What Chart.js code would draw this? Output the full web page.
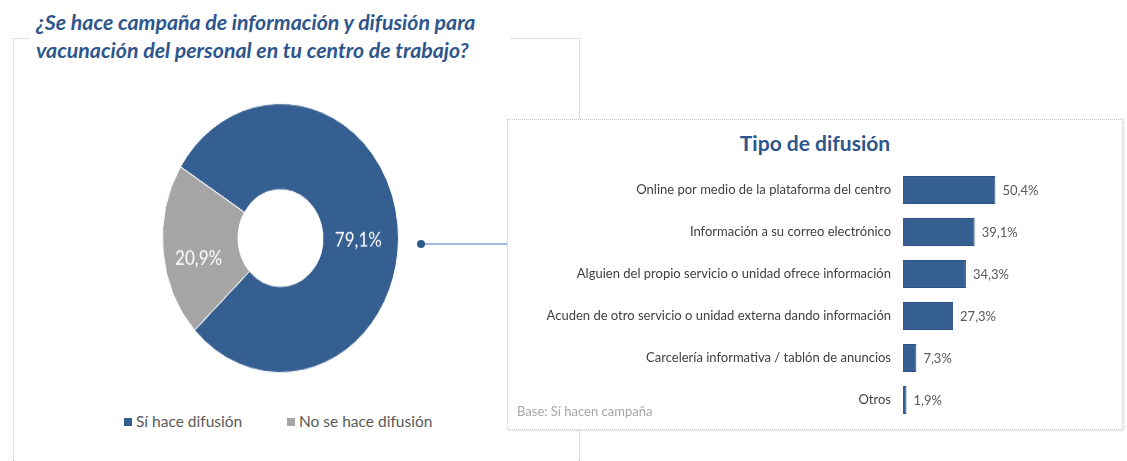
<!DOCTYPE html>
<html>
<head>
<meta charset="utf-8">
<script src="https://cdn.jsdelivr.net/npm/chart.js@4"></script>
<style>
  body { margin: 0; width: 1127px; height: 461px; background: #fff; position: relative; overflow: hidden; font-family: Lato, sans-serif; }
  .frame { position: absolute; left: 13px; top: 38px; width: 565px; height: 460px; border: 1px dotted #c4c4c4; border-bottom: none; }
  .titulo { position: absolute; left: 28px; top: 8px; padding: 0 36px 0 8px; background: #fff; color: #2e568c;
            font: italic bold 21.3px Lato, sans-serif; line-height: 28px; white-space: nowrap; }
  #donutWrap { position: absolute; left: 162px; top: 103px; width: 237px; height: 237px; transform: scaleY(1.14); transform-origin: top left; }
  .leyenda { position: absolute; top: 412px; font: 15.5px Lato, sans-serif; color: #595959; white-space: nowrap; }
  .leyenda span.sq { display: inline-block; width: 8px; height: 8px; margin-right: 4px; vertical-align: 1px; }
  .conector { position: absolute; left: 421px; top: 243px; width: 86px; height: 2px; background: #a3b9d9; }
  .punto { position: absolute; left: 417px; top: 240px; width: 8px; height: 8px; border-radius: 50%; background: #2e5a8c; }
  .caja { position: absolute; left: 507px; top: 119px; width: 614px; height: 309px; background: #fff; border: 1px dotted #c8c8c8; box-shadow: 1px 1px 2px rgba(0,0,0,0.12); }
  .caja h2 { margin: 0; position: absolute; left: 0; right: 0; top: 10px; text-align: center; font: bold 21px Lato, sans-serif; color: #2e568c; }
  .base { position: absolute; left: 9px; top: 283px; font: 13px Lato, sans-serif; color: #a6a6a6; }
  #barWrap { position: absolute; left: 0px; top: 49px; width: 614px; height: 252px; }
</style>
</head>
<body>
<div class="frame"></div>
<div class="titulo">¿Se hace campaña de información y difusión para<br>vacunación del personal en tu centro de trabajo?</div>
<div id="donutWrap"><canvas id="donut" width="237" height="237"></canvas></div>
<div id="leyenda"></div>
<div class="conector"></div>
<div class="punto"></div>
<div class="caja">
  <h2>Tipo de difusión</h2>
  <div id="barWrap"><canvas id="barras" width="614" height="252"></canvas></div>
  <div class="base">Base: Sí hacen campaña</div>
</div>
<script>
// Gráfico de dona: ¿se hace campaña?
const categoriasDona = ['Sí hace difusión', 'No se hace difusión'];
const valoresDona = [79.1, 20.9];
const coloresDona = ['#365f91', '#a5a5a5'];

// Gráfico de barras: tipo de difusión
const categoriasBarras = [
    'Online por medio de la plataforma del centro',
    'Información a su correo electrónico',
    'Alguien del propio servicio o unidad ofrece información',
    'Acuden de otro servicio o unidad externa dando información',
    'Carcelería informativa / tablón de anuncios',
    'Otros'
];
const valoresBarras = [50.4, 39.1, 34.3, 27.3, 7.3, 1.9];

const fmt = v => v.toFixed(1).replace('.', ',') + '%';

// Etiquetas dentro de los segmentos de la dona
const etiquetasDona = {
    id: 'etiquetasDona',
    afterDatasetsDraw(chart) {
        const ctx = chart.ctx;
        const meta = chart.getDatasetMeta(0);
        ctx.save();
        ctx.fillStyle = '#ffffff';
        ctx.font = '17px Lato, sans-serif';
        ctx.textAlign = 'center';
        ctx.textBaseline = 'middle';
        meta.data.forEach((arc, i) => {
            const p = arc.tooltipPosition();
            ctx.fillText(fmt(valoresDona[i]), p.x - 2, p.y + 10);
        });
        ctx.restore();
    }
};

// Etiquetas de valor al final de cada barra
const etiquetasBarras = {
    id: 'etiquetasBarras',
    afterDatasetsDraw(chart) {
        const ctx = chart.ctx;
        const meta = chart.getDatasetMeta(0);
        ctx.save();
        ctx.fillStyle = '#595959';
        ctx.font = '13px Lato, sans-serif';
        ctx.textAlign = 'left';
        ctx.textBaseline = 'middle';
        meta.data.forEach((bar, i) => {
            ctx.fillText(fmt(valoresBarras[i]), bar.x + 7, bar.y + 1);
        });
        ctx.restore();
    }
};

new Chart(document.getElementById('donut'), {
    type: 'doughnut',
    data: {
        labels: categoriasDona,
        datasets: [{
            data: valoresDona,
            backgroundColor: coloresDona,
            borderColor: '#ffffff',
            borderWidth: 1
        }]
    },
    options: {
        responsive: false,
        animation: false,
        rotation: -58,
        cutout: '36%',
        layout: { padding: 0 },
        plugins: { legend: { display: false }, tooltip: { enabled: false } }
    },
    plugins: [etiquetasDona]
});

// Leyenda de la dona en HTML
const posLeyenda = [124, 287];
document.getElementById('leyenda').innerHTML = categoriasDona.map((c, i) =>
    '<div class="leyenda" style="left:' + posLeyenda[i] + 'px"><span class="sq" style="background:' +
    coloresDona[i] + '"></span>' + c + '</div>').join('');

new Chart(document.getElementById('barras'), {
    type: 'bar',
    data: {
        labels: categoriasBarras,
        datasets: [{
            data: valoresBarras,
            backgroundColor: '#365f91',
            borderColor: '#2d5283',
            borderWidth: 1,
            categoryPercentage: 1,
            barPercentage: 0.67
        }]
    },
    options: {
        indexAxis: 'y',
        responsive: false,
        animation: false,
        layout: { padding: { right: 109, top: 0, bottom: 0, left: 0 } },
        scales: {
            x: { display: false, min: 0, max: 60 },
            y: {
                afterFit: s => { s.width = 395; s.paddingTop = 0; s.paddingBottom = 0; },
                grid: { display: false, drawTicks: false },
                border: { display: false },
                ticks: { color: '#404040', font: { size: 13, family: 'Lato, sans-serif' }, padding: 12 }
            }
        },
        plugins: { legend: { display: false }, tooltip: { enabled: false } }
    },
    plugins: [etiquetasBarras]
});
</script>
</body>
</html>
